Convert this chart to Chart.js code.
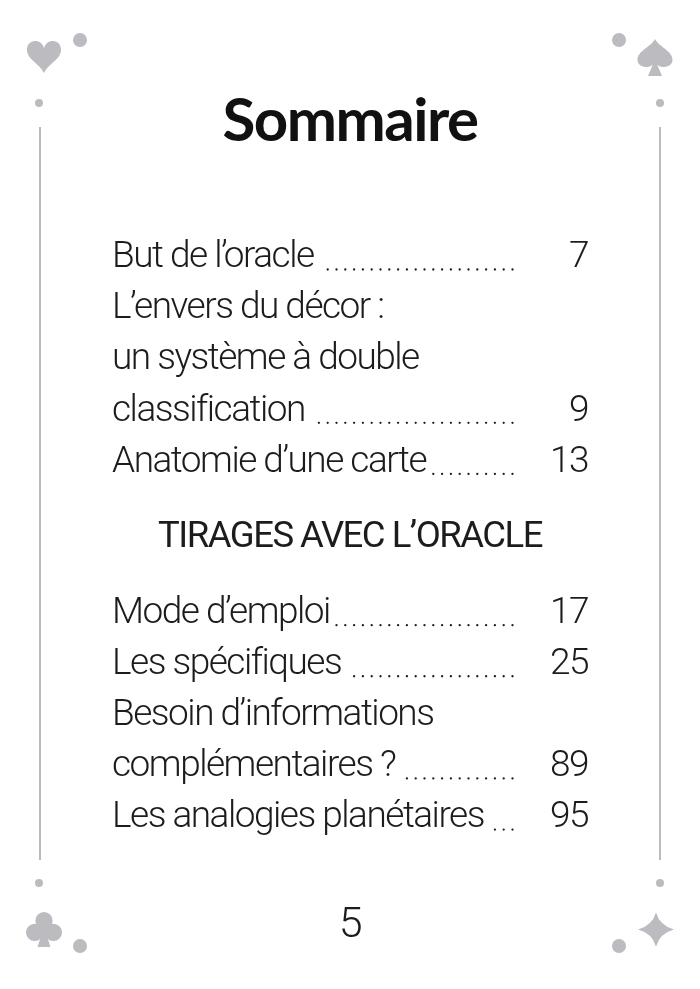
<!DOCTYPE html>
<html>
<head>
<meta charset="utf-8">
<script src="https://cdn.jsdelivr.net/npm/chart.js@4.4.1/dist/chart.umd.min.js"></script>
<style>
  html, body { margin: 0; padding: 0; background: #ffffff; }
  #wrap { width: 700px; height: 989px; position: relative; }
</style>
</head>
<body>
<div id="wrap"><canvas id="toc"></canvas></div>
<script>
// --- data -------------------------------------------------------------
const pageTitle = "Sommaire";
const entryLabels = [
  "But de l’oracle",
  "L’envers du décor\u00A0:",
  "un système à double",
  "classification",
  "Anatomie d’une carte",
  "TIRAGES AVEC L’ORACLE",
  "Mode d’emploi",
  "Les spécifiques",
  "Besoin d’informations",
  "complémentaires\u00A0?",
  "Les analogies planétaires"
];
const entryPages = [7, null, null, 9, 13, null, 17, 25, null, 89, 95];
const sectionHeads = [false, false, false, false, false, true, false, false, false, false, false];
const footerPage = "5";

// --- layout -----------------------------------------------------------
const TEXT_FONT = "Roboto, 'DejaVu Sans Condensed', sans-serif";
const TEXT_SIZE = 37;
const HEAD_SIZE = 36.5;
const TIGHT = "-1.5px"; // the book face is a condensed one
const INK = "#1c1c1c";
const DECO = "#bbbbc0";
const SECTION_GAP = 1.48;
const ROW_PX = 51.1, FIRST_ROW_PX = 258, AREA_TOP = 183, AREA_BOTTOM = 885;
const LEADER_END = 512.5, LEADER_STEP = 8.8;

// row index for each line, a section heading gets extra room around it
const rowValues = [];
let row = 0;
entryLabels.forEach((label, i) => {
  if (sectionHeads[i]) row += SECTION_GAP - 1;
  rowValues.push(row);
  row += sectionHeads[i] ? SECTION_GAP : 1;
});

const yMin = -(FIRST_ROW_PX - AREA_TOP) / ROW_PX;
const yMax = yMin + (AREA_BOTTOM - AREA_TOP) / ROW_PX;

function setRowTicks(axis) {
  axis.ticks = rowValues.map(v => ({ value: v }));
}
function noEdgePadding(axis) {
  axis.paddingTop = 0;
  axis.paddingBottom = 0;
}

// --- card decorations: suits, dots and side rules -----------------------
function heart(ctx, cx, top, w, h) {
  ctx.beginPath();
  ctx.moveTo(cx, top + 0.28 * h);
  ctx.bezierCurveTo(cx - 0.05 * w, top - 0.02 * h, cx - w / 2, top - 0.02 * h, cx - w / 2, top + 0.32 * h);
  ctx.bezierCurveTo(cx - w / 2, top + 0.6 * h, cx - 0.12 * w, top + 0.72 * h, cx, top + h);
  ctx.bezierCurveTo(cx + 0.12 * w, top + 0.72 * h, cx + w / 2, top + 0.6 * h, cx + w / 2, top + 0.32 * h);
  ctx.bezierCurveTo(cx + w / 2, top - 0.02 * h, cx + 0.05 * w, top - 0.02 * h, cx, top + 0.28 * h);
  ctx.fill();
}
function spade(ctx, cx, top, w, h) {
  const b = top + 0.78 * h; // bottom of the lobes
  ctx.beginPath();
  ctx.moveTo(cx, top);
  ctx.bezierCurveTo(cx - 0.12 * w, top + 0.22 * h, cx - w / 2, top + 0.32 * h, cx - w / 2, top + 0.56 * h);
  ctx.bezierCurveTo(cx - w / 2, b + 0.02 * h, cx - 0.06 * w, b + 0.04 * h, cx - 0.03 * w, top + 0.62 * h);
  ctx.lineTo(cx - 0.2 * w, top + h);
  ctx.lineTo(cx + 0.2 * w, top + h);
  ctx.lineTo(cx + 0.03 * w, top + 0.62 * h);
  ctx.bezierCurveTo(cx + 0.06 * w, b + 0.04 * h, cx + w / 2, b + 0.02 * h, cx + w / 2, top + 0.56 * h);
  ctx.bezierCurveTo(cx + w / 2, top + 0.32 * h, cx + 0.12 * w, top + 0.22 * h, cx, top);
  ctx.fill();
}
function club(ctx, cx, top, w, h) {
  const r = 0.24 * w;
  ctx.beginPath();
  ctx.arc(cx, top + r, r, 0, Math.PI * 2);
  ctx.moveTo(cx - w / 2 + 2 * r, top + 0.58 * h);
  ctx.arc(cx - w / 2 + r, top + 0.58 * h, r, 0, Math.PI * 2);
  ctx.moveTo(cx + w / 2, top + 0.58 * h);
  ctx.arc(cx + w / 2 - r, top + 0.58 * h, r, 0, Math.PI * 2);
  ctx.fill();
  ctx.beginPath();
  ctx.moveTo(cx, top + 0.3 * h);
  ctx.lineTo(cx - 0.2 * w, top + 0.58 * h);
  ctx.lineTo(cx + 0.2 * w, top + 0.58 * h);
  ctx.fill();
  ctx.beginPath();
  ctx.moveTo(cx - 0.04 * w, top + 0.55 * h);
  ctx.lineTo(cx - 0.18 * w, top + h);
  ctx.lineTo(cx + 0.18 * w, top + h);
  ctx.lineTo(cx + 0.04 * w, top + 0.55 * h);
  ctx.fill();
}
function diamond(ctx, cx, cy, hw, hh) {
  const k = 0.22;
  ctx.beginPath();
  ctx.moveTo(cx, cy - hh);
  ctx.quadraticCurveTo(cx + k * hw, cy - k * hh, cx + hw, cy);
  ctx.quadraticCurveTo(cx + k * hw, cy + k * hh, cx, cy + hh);
  ctx.quadraticCurveTo(cx - k * hw, cy + k * hh, cx - hw, cy);
  ctx.quadraticCurveTo(cx - k * hw, cy - k * hh, cx, cy - hh);
  ctx.fill();
}
function dot(ctx, x, y, r) {
  ctx.beginPath();
  ctx.arc(x, y, r, 0, Math.PI * 2);
  ctx.fill();
}

const cardDecor = {
  id: "cardDecor",
  beforeDraw(chart) {
    const ctx = chart.ctx;
    ctx.save();
    ctx.fillStyle = DECO;
    ctx.strokeStyle = DECO;
    ctx.lineWidth = 2;
    ctx.beginPath();
    ctx.moveTo(40, 127); ctx.lineTo(40, 860);
    ctx.moveTo(660, 127); ctx.lineTo(660, 860);
    ctx.stroke();
    heart(ctx, 44, 39, 34, 34);
    spade(ctx, 655, 39, 35, 37);
    club(ctx, 44, 912, 36, 35);
    diamond(ctx, 656, 929.5, 18, 17);
    dot(ctx, 80, 40, 7); dot(ctx, 39, 103, 4);
    dot(ctx, 619, 40, 7); dot(ctx, 660, 103, 4);
    dot(ctx, 39, 883, 4); dot(ctx, 80, 946, 7);
    dot(ctx, 660, 883, 4); dot(ctx, 619, 946, 7);
    ctx.restore();
    // tighter tracking for every text the chart draws after this point
    ctx.letterSpacing = TIGHT;
  }
};

// section heading (centred) and the dotted leaders up to the page numbers
const tocExtras = {
  id: "tocExtras",
  afterDraw(chart) {
    const ctx = chart.ctx;
    const y = chart.scales.y;
    ctx.save();
    ctx.letterSpacing = TIGHT;
    ctx.fillStyle = INK;
    entryLabels.forEach((label, i) => {
      const py = y.getPixelForValue(rowValues[i]);
      if (sectionHeads[i]) {
        ctx.font = `400 ${HEAD_SIZE}px ${TEXT_FONT}`;
        ctx.textAlign = "center";
        ctx.textBaseline = "middle";
        ctx.fillText(label, 350, py);
        return;
      }
      if (entryPages[i] == null) return;
      ctx.font = `300 ${TEXT_SIZE}px ${TEXT_FONT}`;
      const start = y.left + ctx.measureText(label).width + 6;
      for (let x = LEADER_END; x > start; x -= LEADER_STEP) {
        dot(ctx, x, py + 11.5, 1.15);
      }
    });
    ctx.restore();
    ctx.letterSpacing = "0px";
  }
};

const tickFont = { family: TEXT_FONT, size: TEXT_SIZE, weight: 300, lineHeight: 1.2 };

new Chart(document.getElementById("toc"), {
  type: "scatter",
  data: { datasets: [] },
  plugins: [cardDecor, tocExtras],
  options: {
    responsive: true,
    maintainAspectRatio: false,
    animation: false,
    layout: { padding: { left: 112, right: 112, top: 0, bottom: 0 } },
    plugins: {
      legend: { display: false },
      tooltip: { enabled: false },
      title: {
        display: true,
        text: pageTitle,
        color: "#111111",
        font: { family: "Lato, 'Open Sans', sans-serif", size: 60, weight: "bold", lineHeight: 1 },
        padding: { top: 92, bottom: 31 }
      },
      subtitle: {
        display: true,
        position: "bottom",
        text: footerPage,
        color: INK,
        font: { family: TEXT_FONT, size: 43, weight: 300, lineHeight: 1 },
        padding: { top: 20, bottom: 41 }
      }
    },
    scales: {
      x: { type: "linear", display: false, min: 0, max: 1 },
      y: {
        type: "linear",
        position: "left",
        reverse: true,
        min: yMin,
        max: yMax,
        grid: { display: false, drawTicks: false },
        border: { display: false },
        afterBuildTicks: setRowTicks,
        afterFit: axis => { noEdgePadding(axis); axis.width = 430; },
        ticks: {
          autoSkip: false,
          crossAlign: "far",
          padding: 0,
          color: INK,
          font: tickFont,
          callback: (v, i) => (sectionHeads[i] ? "" : entryLabels[i])
        }
      },
      y2: {
        type: "linear",
        position: "right",
        reverse: true,
        min: yMin,
        max: yMax,
        grid: { display: false, drawTicks: false },
        border: { display: false },
        afterBuildTicks: setRowTicks,
        afterFit: noEdgePadding,
        ticks: {
          autoSkip: false,
          crossAlign: "far",
          padding: 0,
          color: INK,
          font: tickFont,
          callback: (v, i) => (entryPages[i] == null ? "" : String(entryPages[i]))
        }
      }
    }
  }
});
</script>
</body>
</html>
